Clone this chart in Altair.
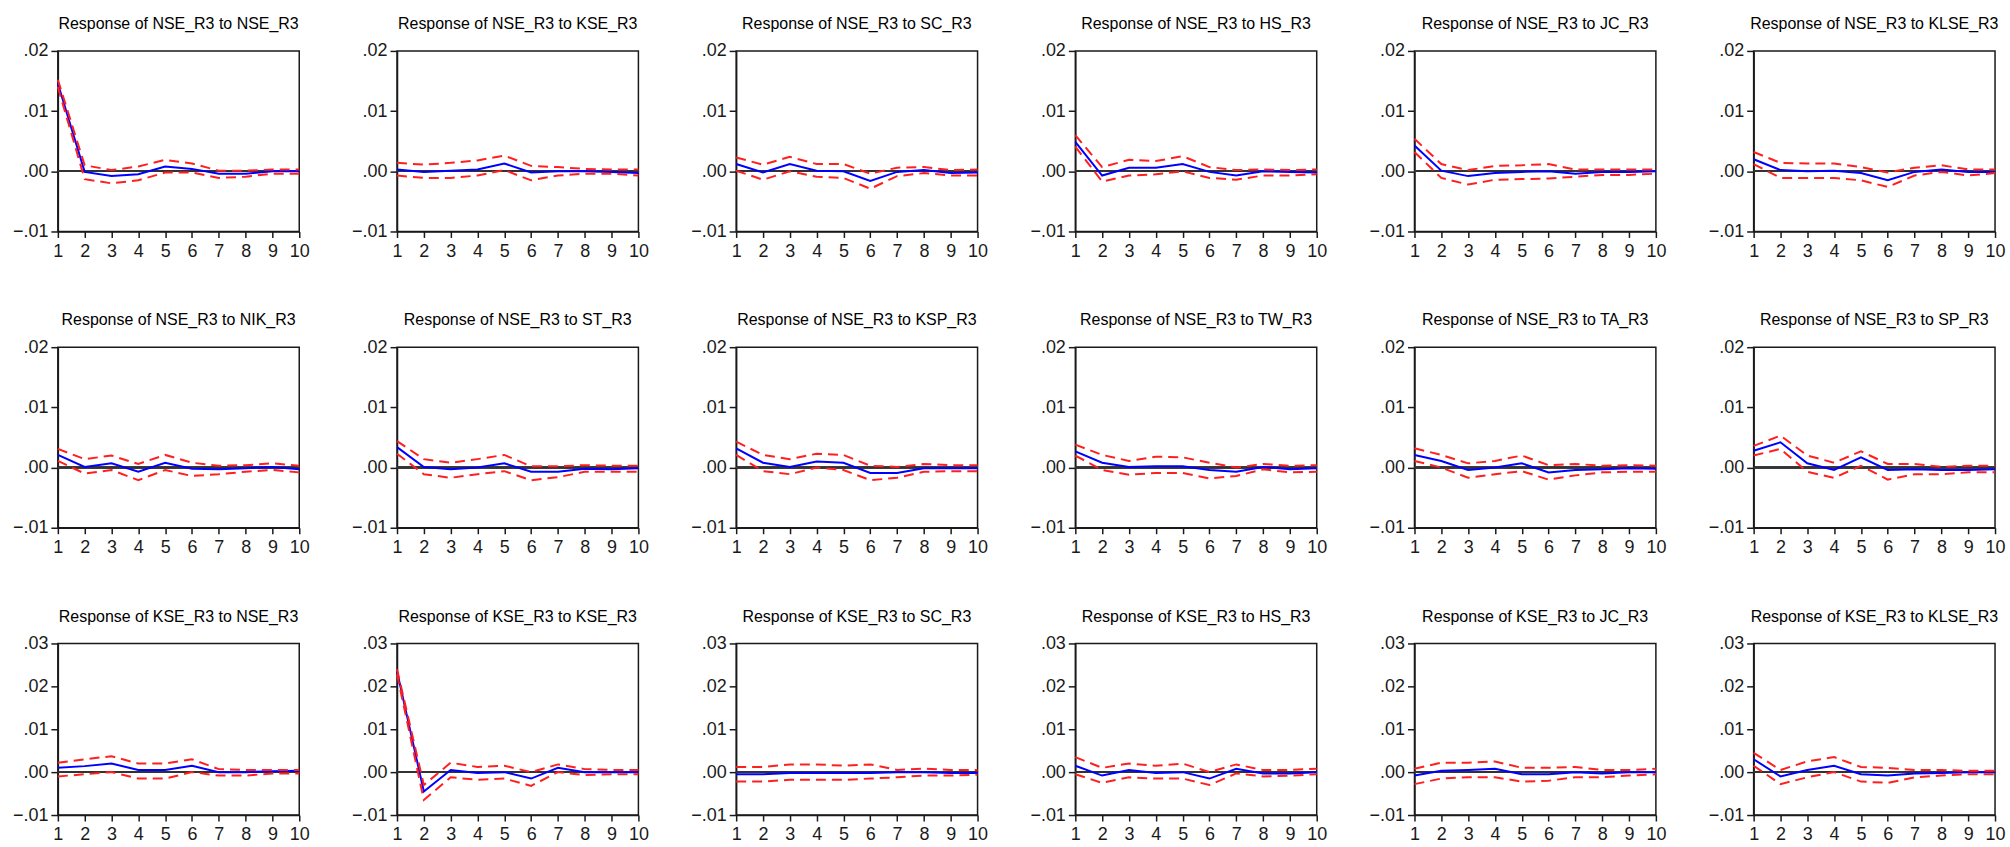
import altair as alt
import pandas as pd

steps = list(range(1, 11))

titles = [
    "Response of NSE_R3 to NSE_R3", "Response of NSE_R3 to KSE_R3", "Response of NSE_R3 to SC_R3",
    "Response of NSE_R3 to HS_R3", "Response of NSE_R3 to JC_R3", "Response of NSE_R3 to KLSE_R3",
    "Response of NSE_R3 to NIK_R3", "Response of NSE_R3 to ST_R3", "Response of NSE_R3 to KSP_R3",
    "Response of NSE_R3 to TW_R3", "Response of NSE_R3 to TA_R3", "Response of NSE_R3 to SP_R3",
    "Response of KSE_R3 to NSE_R3", "Response of KSE_R3 to KSE_R3", "Response of KSE_R3 to SC_R3",
    "Response of KSE_R3 to HS_R3", "Response of KSE_R3 to JC_R3", "Response of KSE_R3 to KLSE_R3",
]

# impulse responses (blue)
response = [
    [0.0146, -0.0001, -0.0008, -0.0005, 0.0008, 0.0004, -0.0004, -0.0004, 0.0, 0.0],
    [0.0003, -0.0001, 0.0001, 0.0003, 0.0013, -0.0002, 0.0, 0.0, -0.0001, -0.0003],
    [0.0012, -0.0002, 0.0012, 0.0001, 0.0, -0.0016, -0.0001, 0.0002, -0.0003, -0.0002],
    [0.0049, -0.0007, 0.0006, 0.0006, 0.0012, -0.0001, -0.0007, 0.0, -0.0001, -0.0002],
    [0.0043, 0.0001, -0.0008, -0.0003, -0.0001, 0.0, -0.0004, -0.0001, -0.0001, 0.0],
    [0.0020, 0.0002, 0.0, 0.0001, -0.0003, -0.0015, -0.0001, 0.0003, -0.0001, -0.0001],
    [0.0021, 0.0001, 0.0007, -0.0007, 0.0008, -0.0002, -0.0003, -0.0001, 0.0001, -0.0003],
    [0.0034, 0.0001, -0.0003, 0.0, 0.0007, -0.0007, -0.0007, -0.0002, -0.0003, -0.0001],
    [0.0032, 0.0008, 0.0001, 0.0010, 0.0008, -0.0009, -0.0009, -0.0001, -0.0001, -0.0001],
    [0.0027, 0.0008, 0.0001, 0.0002, 0.0002, -0.0004, -0.0007, 0.0001, -0.0003, -0.0001],
    [0.0021, 0.0011, -0.0004, 0.0, 0.0007, -0.0008, -0.0004, -0.0003, -0.0001, -0.0002],
    [0.0028, 0.0042, 0.0007, -0.0004, 0.0017, -0.0004, -0.0003, -0.0004, -0.0004, -0.0003],
    [0.0010, 0.0014, 0.0020, 0.0005, 0.0005, 0.0015, 0.0, 0.0, 0.0002, 0.0003],
    [0.0235, -0.0045, 0.0005, -0.0002, 0.0, -0.0015, 0.0010, 0.0, 0.0, 0.0],
    [-0.0005, -0.0005, -0.0002, -0.0002, -0.0002, -0.0002, 0.0, 0.0, -0.0002, -0.0002],
    [0.0015, -0.0008, 0.0005, -0.0002, 0.0, -0.0015, 0.0008, -0.0003, -0.0003, 0.0],
    [-0.0008, 0.0003, 0.0005, 0.0008, -0.0005, -0.0005, 0.0, -0.0003, 0.0, 0.0],
    [0.0030, -0.0010, 0.0005, 0.0015, -0.0005, -0.0008, -0.0003, -0.0002, 0.0, 0.0],
]

# upper confidence band (red dashed)
upper = [
    [0.0152, 0.0010, 0.0002, 0.0008, 0.0019, 0.0013, 0.0001, 0.0001, 0.0003, 0.0003],
    [0.0014, 0.0011, 0.0014, 0.0018, 0.0026, 0.0009, 0.0007, 0.0004, 0.0003, 0.0003],
    [0.0023, 0.0011, 0.0024, 0.0012, 0.0012, -0.0004, 0.0006, 0.0007, 0.0002, 0.0003],
    [0.0060, 0.0007, 0.0019, 0.0017, 0.0025, 0.0007, 0.0002, 0.0003, 0.0002, 0.0003],
    [0.0054, 0.0012, 0.0002, 0.0009, 0.0010, 0.0012, 0.0003, 0.0003, 0.0003, 0.0003],
    [0.0032, 0.0014, 0.0013, 0.0013, 0.0007, -0.0002, 0.0006, 0.0010, 0.0003, 0.0003],
    [0.0031, 0.0014, 0.0020, 0.0006, 0.0021, 0.0008, 0.0003, 0.0004, 0.0007, 0.0003],
    [0.0044, 0.0014, 0.0008, 0.0014, 0.0021, 0.0002, 0.0002, 0.0004, 0.0003, 0.0003],
    [0.0043, 0.0021, 0.0014, 0.0023, 0.0021, 0.0003, 0.0001, 0.0006, 0.0004, 0.0004],
    [0.0038, 0.0021, 0.0011, 0.0018, 0.0017, 0.0008, 0.0, 0.0006, 0.0003, 0.0004],
    [0.0032, 0.0021, 0.0007, 0.0011, 0.0020, 0.0004, 0.0006, 0.0003, 0.0004, 0.0003],
    [0.0036, 0.0053, 0.0020, 0.0008, 0.0027, 0.0006, 0.0006, 0.0001, 0.0003, 0.0003],
    [0.0022, 0.0030, 0.0037, 0.0020, 0.0020, 0.0030, 0.0007, 0.0005, 0.0005, 0.0005],
    [0.0240, -0.0030, 0.0022, 0.0012, 0.0015, 0.0, 0.0018, 0.0007, 0.0005, 0.0005],
    [0.0012, 0.0012, 0.0018, 0.0018, 0.0015, 0.0018, 0.0005, 0.0008, 0.0005, 0.0005],
    [0.0035, 0.0010, 0.0020, 0.0015, 0.0020, 0.0, 0.0018, 0.0005, 0.0005, 0.0008],
    [0.0008, 0.0022, 0.0022, 0.0025, 0.0010, 0.0010, 0.0012, 0.0005, 0.0005, 0.0008],
    [0.0045, 0.0005, 0.0025, 0.0035, 0.0012, 0.0010, 0.0005, 0.0005, 0.0003, 0.0003],
]

# lower confidence band (red dashed)
lower = [
    [0.0140, -0.0013, -0.0020, -0.0015, -0.0002, -0.0002, -0.0011, -0.0009, -0.0004, -0.0004],
    [-0.0007, -0.0011, -0.0011, -0.0007, 0.0002, -0.0015, -0.0007, -0.0004, -0.0004, -0.0007],
    [0.0001, -0.0014, 0.0, -0.0009, -0.0011, -0.0029, -0.0008, -0.0003, -0.0007, -0.0007],
    [0.0041, -0.0017, -0.0007, -0.0005, 0.0, -0.0011, -0.0014, -0.0007, -0.0007, -0.0005],
    [0.0032, -0.0011, -0.0022, -0.0014, -0.0013, -0.0012, -0.0009, -0.0006, -0.0006, -0.0004],
    [0.0012, -0.0011, -0.0011, -0.0011, -0.0015, -0.0026, -0.0007, -0.0001, -0.0007, -0.0003],
    [0.0011, -0.0010, -0.0004, -0.0021, -0.0004, -0.0014, -0.0011, -0.0007, -0.0004, -0.0008],
    [0.0023, -0.0011, -0.0017, -0.0011, -0.0006, -0.0021, -0.0016, -0.0007, -0.0007, -0.0007],
    [0.0021, -0.0006, -0.0011, 0.0, -0.0004, -0.0021, -0.0017, -0.0007, -0.0006, -0.0006],
    [0.0020, -0.0004, -0.0012, -0.0009, -0.0009, -0.0018, -0.0014, -0.0003, -0.0008, -0.0007],
    [0.0011, 0.0, -0.0017, -0.0011, -0.0006, -0.0020, -0.0013, -0.0008, -0.0007, -0.0007],
    [0.0020, 0.0031, -0.0007, -0.0017, 0.0003, -0.0020, -0.0011, -0.0011, -0.0008, -0.0008],
    [-0.0010, -0.0005, 0.0, -0.0015, -0.0015, 0.0, -0.0008, -0.0008, -0.0003, -0.0003],
    [0.0228, -0.0065, -0.0012, -0.0018, -0.0015, -0.0032, 0.0, -0.0007, -0.0005, -0.0005],
    [-0.0022, -0.0022, -0.0018, -0.0018, -0.0018, -0.0015, -0.0012, -0.0008, -0.0008, -0.0006],
    [-0.0005, -0.0025, -0.0012, -0.0015, -0.0015, -0.0030, -0.0003, -0.0010, -0.0008, -0.0005],
    [-0.0028, -0.0015, -0.0012, -0.0012, -0.0022, -0.0020, -0.0012, -0.0012, -0.0008, -0.0005],
    [0.0015, -0.0028, -0.0012, 0.0, -0.0022, -0.0025, -0.0012, -0.0008, -0.0005, -0.0005],
]

y_ticks_small = [-0.01, 0.0, 0.01, 0.02]
y_ticks_large = [-0.01, 0.0, 0.01, 0.02, 0.03]

BLUE = "#0000ff"
RED = "#ff1f1f"
INK = "#1a1a1a"
FONT = "Liberation Sans"


def panel(i, yticks, height):
    df = pd.DataFrame({"step": steps, "resp": response[i], "up": upper[i], "lo": lower[i]})
    yscale = alt.Scale(domain=[yticks[0], yticks[-1]], nice=False, zero=False)
    yaxis = alt.Axis(values=yticks, labelExpr="replace(format(datum.value, '.2f'), '0.', '.')",
                     tickSize=7, labelPadding=3, labelFontSize=18, grid=False)
    x = alt.X("step:Q", title=None,
              scale=alt.Scale(domain=[1, 10], nice=False, zero=False),
              axis=alt.Axis(values=steps, format="d", tickSize=6, labelPadding=5,
                            labelFontSize=18, grid=False, labelFlush=False, labelOverlap=False))
    base = alt.Chart(df)
    zero = base.mark_rule(color="#333333", strokeWidth=1.5).encode(
        y=alt.datum(0, scale=yscale, axis=yaxis, title=None))
    blue = base.mark_line(color=BLUE, strokeWidth=2).encode(
        x=x, y=alt.Y("resp:Q", scale=yscale, axis=yaxis, title=None))
    up = base.mark_line(color=RED, strokeWidth=2, strokeDash=[10, 6]).encode(
        x=x, y=alt.Y("up:Q", scale=yscale, axis=yaxis, title=None))
    lo = base.mark_line(color=RED, strokeWidth=2, strokeDash=[10, 6]).encode(
        x=x, y=alt.Y("lo:Q", scale=yscale, axis=yaxis, title=None))
    return alt.layer(zero, blue, up, lo).properties(
        width=242, height=height,
        title=alt.TitleParams(titles[i], fontSize=16, font=FONT, fontWeight="normal",
                              color="#000000", anchor="middle", frame="group",
                              baseline="bottom", offset=-6),
    )


panels = []
for r in range(3):
    ticks = y_ticks_small if r < 2 else y_ticks_large
    h = 181 if r < 2 else 172
    for c in range(6):
        panels.append(panel(r * 6 + c, ticks, h))

chart = alt.concat(*panels, columns=6, spacing={"row": 116, "column": 98},
                   bounds="flush").properties(
    padding={"left": 11, "top": 14, "right": 4, "bottom": 0},
    background="white",
).configure_view(
    stroke=INK, strokeWidth=1.5
).configure_axis(
    domainColor=INK, domainWidth=1.5, tickColor=INK, tickWidth=1.5,
    labelColor=INK, labelFont=FONT,
)

chart.save("out.html", embed_options={"renderer": "svg", "actions": False})
